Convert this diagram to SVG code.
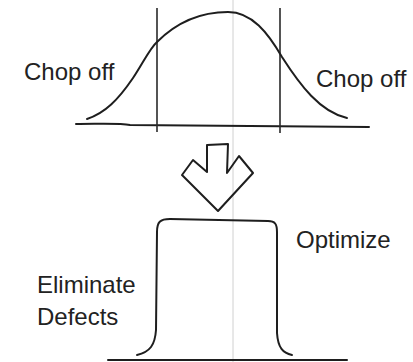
<svg xmlns="http://www.w3.org/2000/svg" width="413" height="362" viewBox="0 0 413 362">
<style>
.ln{fill:none;stroke:#1e1e1e;stroke-width:2;stroke-linecap:round;stroke-linejoin:round}
.thin{fill:none;stroke:#2a2a2a;stroke-width:1.6}
.lbl{font-family:"Liberation Sans",Arial,sans-serif;font-size:24px;fill:#222}
</style>
<rect width="413" height="362" fill="#fff"/>
<line x1="233" y1="0" x2="233" y2="362" stroke="#d0d0d0" stroke-width="1"/>
<g id="top-chart">
<path class="ln" d="M76,124 C100,124 120,123 130,125 L369,127"/>
<line class="thin" x1="157" y1="8" x2="157" y2="132"/>
<line class="thin" x1="280" y1="8" x2="280" y2="133"/>
<path class="ln" d="M87,119 C105,113 118,100 133,78 C143,63 150,48 157,42 C177,22 200,12 228,12 C252,12 268,33 282,57 C300,85 320,112 347,118"/>
</g>
<g id="label-chop-left"><text class="lbl" x="24" y="80">Chop off</text></g>
<g id="label-chop-right"><text class="lbl" x="316" y="87">Chop off</text></g>
<g id="arrow">
<path class="ln" d="M207,145 L228,144 L227,173 L239,156 L253,173 L218,211 L182,175 L193,160 L207,172 Z"/>
</g>
<g id="bottom-chart">
<path class="ln" d="M108,360 L347,360"/>
<path class="ln" d="M137,355 C150,352 155,345 156,330 L157,232 C157,222 160,219 170,219 L268,221 C275,221 277,224 277,232 L277,333 C278,348 283,353 292,355"/>
</g>
<g id="label-optimize"><text class="lbl" x="296" y="248">Optimize</text></g>
<g id="label-eliminate"><text class="lbl" x="37" y="293">Eliminate</text><text class="lbl" x="37" y="325">Defects</text></g>
</svg>
